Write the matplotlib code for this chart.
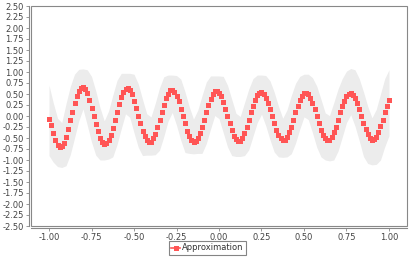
import matplotlib
matplotlib.use("Agg")
import matplotlib.pyplot as plt
from matplotlib.lines import Line2D
from matplotlib.patches import Rectangle
import numpy as np

plt.rcParams['font.family'] = ['DejaVu Sans']
plt.rcParams['axes.unicode_minus'] = False

# ---- data ----
x_start, x_step = -1.0, 0.0125
approx_y = [
    -0.06, -0.21, -0.39, -0.55, -0.65, -0.70, -0.68, -0.61, -0.48, -0.30, -0.10, 0.10, 0.29, 0.45, 0.57, 0.64, 0.66, 0.61, 0.52, 0.37, 0.19,
    0.00, -0.19, -0.35, -0.49, -0.59, -0.63, -0.61, -0.55, -0.43, -0.27, -0.09, 0.09, 0.27, 0.43, 0.55, 0.61, 0.63, 0.59, 0.49, 0.35, 0.19,
    0.00, -0.17, -0.33, -0.46, -0.55, -0.59, -0.58, -0.51, -0.40, -0.26, -0.09, 0.09, 0.26, 0.40, 0.51, 0.58, 0.59, 0.55, 0.46, 0.33, 0.17,
    0.00, -0.17, -0.33, -0.45, -0.54, -0.58, -0.57, -0.50, -0.39, -0.25, -0.09, 0.08, 0.25, 0.39, 0.49, 0.56, 0.57, 0.53, 0.45, 0.32, 0.17,
    0.00, -0.17, -0.32, -0.45, -0.53, -0.57, -0.56, -0.49, -0.39, -0.25, -0.08, 0.08, 0.23, 0.37, 0.47, 0.53, 0.54, 0.50, 0.42, 0.30, 0.16,
    0.00, -0.16, -0.31, -0.43, -0.51, -0.55, -0.54, -0.48, -0.37, -0.24, -0.08, 0.08, 0.23, 0.36, 0.46, 0.52, 0.53, 0.49, 0.41, 0.30, 0.16,
    0.00, -0.16, -0.31, -0.43, -0.51, -0.55, -0.54, -0.48, -0.37, -0.24, -0.08, 0.08, 0.23, 0.35, 0.45, 0.51, 0.52, 0.48, 0.41, 0.29, 0.15,
    0.00, -0.16, -0.30, -0.42, -0.50, -0.54, -0.53, -0.47, -0.37, -0.23, -0.08, 0.08, 0.23, 0.36,
]
band_step = 0.025
band_upper = [
    0.70, 0.30, -0.05, -0.15, 0.28, 0.67, 0.95, 1.06, 1.07, 1.05,
    0.90, 0.57, 0.19, -0.11, 0.11, 0.47, 0.81, 0.97, 0.97, 0.97,
    0.95, 0.73, 0.38, 0.05, -0.02, 0.29, 0.64, 0.89, 0.93, 0.93,
    0.92, 0.84, 0.55, 0.21, -0.07, 0.13, 0.46, 0.77, 0.91, 0.91,
    0.91, 0.90, 0.70, 0.38, 0.06, -0.01, 0.30, 0.61, 0.85, 0.93,
    0.93, 0.92, 0.80, 0.54, 0.22, -0.05, 0.14, 0.46, 0.74, 0.90,
    0.95, 0.95, 0.87, 0.68, 0.38, 0.07, 0.01, 0.30, 0.61, 0.85,
    1.02, 1.08, 1.05, 0.85, 0.55, 0.22, -0.04, 0.15, 0.50, 0.85,
    1.05,
]
band_lower = [
    -0.90, -1.05, -1.15, -1.17, -1.13, -0.88, -0.50, -0.11, 0.16, -0.21,
    -0.59, -0.89, -1.00, -1.00, -0.98, -0.93, -0.65, -0.29, 0.05, -0.03,
    -0.38, -0.71, -0.90, -0.89, -0.89, -0.88, -0.78, -0.47, -0.12, 0.08,
    -0.21, -0.55, -0.83, -0.85, -0.86, -0.85, -0.85, -0.63, -0.30, 0.01,
    -0.06, -0.38, -0.70, -0.90, -0.92, -0.92, -0.90, -0.77, -0.46, -0.15,
    0.04, -0.22, -0.54, -0.82, -0.93, -0.94, -0.93, -0.86, -0.62, -0.30,
    -0.02, -0.08, -0.38, -0.71, -0.93, -1.00, -1.02, -1.00, -0.80, -0.48,
    -0.15, 0.03, -0.23, -0.56, -0.92, -1.08, -1.11, -1.10, -1.00, -0.70,
    -0.45,
]
x_ticks = [-1.00, -0.75, -0.50, -0.25, 0.00, 0.25, 0.50, 0.75, 1.00]
y_ticks = [-2.50, -2.25, -2.00, -1.75, -1.50, -1.25, -1.00, -0.75, -0.50, -0.25, 0.00,
           0.25, 0.50, 0.75, 1.00, 1.25, 1.50, 1.75, 2.00, 2.25, 2.50]
series_label = "Approximation"

approx_x = x_start + x_step * np.arange(len(approx_y))
band_x = x_start + band_step * np.arange(len(band_upper))

W, H = 415, 257
fig = plt.figure(figsize=(W / 100, H / 100), dpi=100)
ax = fig.add_axes([31 / W, 1 - 226 / H, (407 - 31) / W, (226 - 6) / H])

red = '#FF5555'
gray_axis = '#888888'

ax.fill_between(band_x, band_lower, band_upper, color='#ececec', linewidth=0, zorder=1)
ax.plot(approx_x, approx_y, linestyle='none', marker='s', markersize=3.6,
        markerfacecolor=red, markeredgewidth=0, zorder=3)

ax.set_xlim(-1.106, 1.106)
ax.set_ylim(-2.5, 2.5)
ax.set_xticks(x_ticks)
ax.set_yticks(y_ticks)
ax.set_xticklabels([f"{v:.2f}" for v in x_ticks])
ax.set_yticklabels([f"{v:.2f}" for v in y_ticks])

for s in ['top', 'right']:
    ax.spines[s].set_visible(False)
for s in ['left', 'bottom']:
    ax.spines[s].set_position(('outward', 1.6))
    ax.spines[s].set_color(gray_axis)
    ax.spines[s].set_linewidth(0.8)

ax.add_patch(Rectangle((0, 0), 1, 1, transform=ax.transAxes, fill=False,
                       edgecolor=gray_axis, linewidth=0.8, clip_on=False, zorder=5))

ax.tick_params(axis='both', length=2, width=0.6, color=gray_axis,
               labelsize=6, labelcolor='#444444', pad=1.5)

handle = Line2D([], [], color=red, marker='s', markersize=3.6, markeredgewidth=0, linewidth=1.2)
leg = fig.legend([handle], [series_label], loc='center', bbox_to_anchor=(0.5, 1 - 248 / H),
                 fontsize=6, frameon=True, fancybox=False, handlelength=1.0,
                 handletextpad=0.3, borderpad=0.25, borderaxespad=0)
leg.get_frame().set_edgecolor('#666666')
leg.get_frame().set_linewidth(0.8)
for t in leg.get_texts():
    t.set_color('#333333')

fig.savefig('out.png', dpi=100, facecolor='white')
